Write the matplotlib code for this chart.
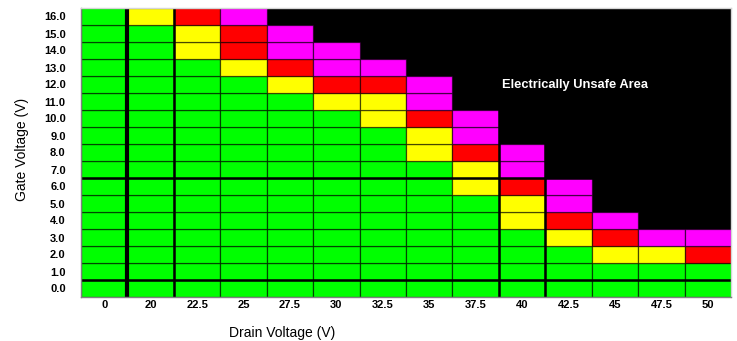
import numpy as np
import matplotlib
matplotlib.use('Agg')
import matplotlib.pyplot as plt

drain_labels = ['0', '20', '22.5', '25', '27.5', '30', '32.5', '35',
                '37.5', '40', '42.5', '45', '47.5', '50']
gate_levels = [0, 1, 2, 3, 4, 5, 6, 7, 8, 9, 10, 11, 12, 13, 14, 15, 16]

# highest gate voltage of each zone, per drain column
green_top = [16, 15, 13, 12, 11, 10, 9, 7, 5, 3, 2, 1, 1, 1]
yellow_top = [16, 16, 15, 13, 12, 11, 11, 9, 7, 5, 3, 2, 2, 1]
red_top = [16, 16, 16, 15, 13, 12, 12, 10, 8, 6, 4, 3, 2, 2]
magenta_top = [16, 16, 16, 16, 15, 14, 13, 12, 10, 8, 6, 4, 3, 3]

zone_colors = ['#00ff00', '#ffff00', '#ff0000', '#ff00ff']

plt.rcParams['font.family'] = ['Liberation Sans', 'DejaVu Sans']

fig = plt.figure(figsize=(7.37, 3.41), dpi=100)
fig.patch.set_facecolor('white')
ax = fig.add_axes([81 / 737, 44 / 341, 650 / 737, 289 / 341])
ax.set_facecolor('black')

x = np.arange(len(drain_labels))
tops = [green_top, yellow_top, red_top, magenta_top]
for g in gate_levels:
    for i in x:
        for zone, top in enumerate(tops):
            if g <= top[i]:
                ax.bar(i, 1, bottom=g - 0.5, width=1.0,
                       color=zone_colors[zone],
                       edgecolor=(0, 0, 0, 0.55), linewidth=0.9)
                break

# heavier separators
for xv, lw in [(0.5, 3.0), (1.5, 1.8), (8.5, 1.8), (9.5, 1.8)]:
    ax.axvline(xv, color='black', linewidth=lw)
for yv in [0.5, 6.5]:
    ax.axhline(yv, color='black', linewidth=1.8)

ax.set_xlim(-0.5, len(drain_labels) - 0.5)
ax.set_ylim(-0.5, gate_levels[-1] + 0.5)
ax.set_xticks(x)
ax.set_xticklabels(drain_labels, fontsize=8, fontweight='bold')
ax.set_yticks(gate_levels)
ax.set_yticklabels(['%.1f' % g for g in gate_levels], fontsize=8, fontweight='bold')
ax.tick_params(axis='x', length=0, pad=2)
ax.tick_params(axis='y', length=0, pad=11)

for side in ['top', 'right']:
    ax.spines[side].set_color('#d4d4d4')
for side in ['left', 'bottom']:
    ax.spines[side].set_color('#808080')
for s in ax.spines.values():
    s.set_linewidth(1.0)

ax.set_xlabel('Drain Voltage (V)', fontsize=10)
ax.set_ylabel('Gate Voltage (V)', fontsize=10)
ax.xaxis.set_label_coords(0.31, -0.1)
ax.yaxis.set_label_coords(-0.08, 0.51)

ax.text(10.14, 11.97, 'Electrically Unsafe Area', color='white',
        fontsize=9.3, fontweight='bold', ha='center', va='center')

fig.savefig('out.png', dpi=100)
